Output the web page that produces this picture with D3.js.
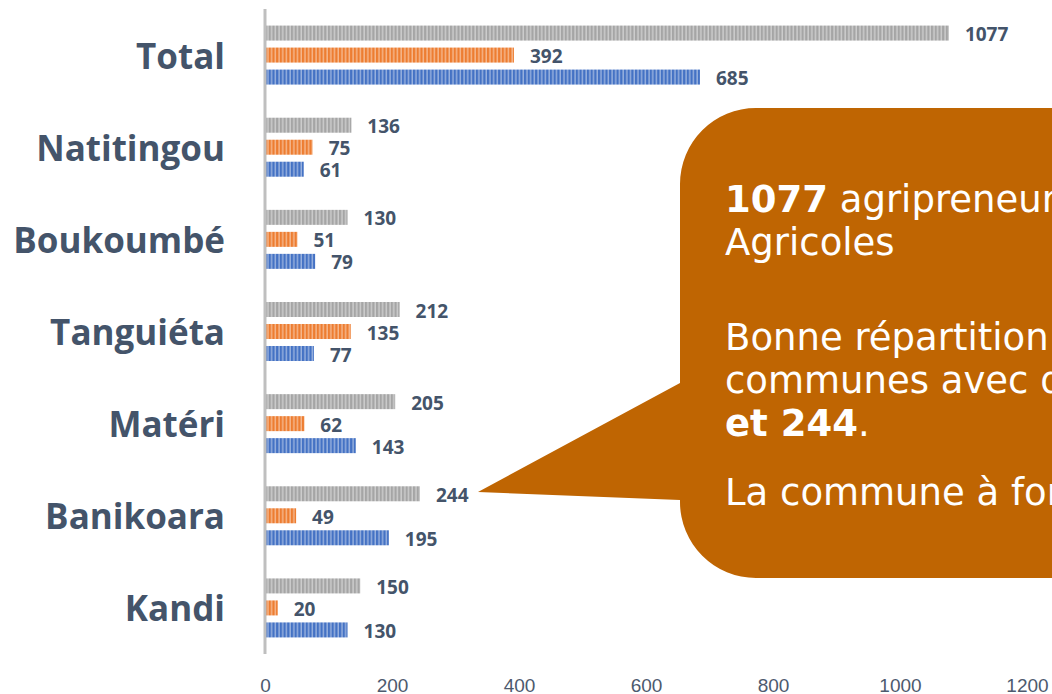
<!DOCTYPE html>
<html>
<head>
<meta charset="utf-8">
<script src="https://cdn.jsdelivr.net/npm/d3@7"></script>
<style>
  body { margin: 0; background: #ffffff; overflow: hidden; }
  svg { display: block; }
</style>
</head>
<body>
<div id="chart"></div>
<script>
// Data
const communes = ["Total", "Natitingou", "Boukoumbé", "Tanguiéta", "Matéri", "Banikoara", "Kandi"]
const series = ["ensemble", "groupeA", "groupeB"]
const ensembleValues = [1077, 136, 130, 212, 205, 244, 150]
const groupeAValues = [392, 75, 51, 135, 62, 49, 20]
const groupeBValues = [685, 61, 79, 77, 143, 195, 130]
const xTicks = [0, 200, 400, 600, 800, 1000, 1200]

const calloutLines = [
    [{t: "1077", b: true}, {t: " agripreneurs"}],
    [{t: "Agricoles"}],
    [],
    [{t: "Bonne répartition"}],
    [{t: "communes avec des"}],
    [{t: "et 244", b: true}, {t: "."}],
    [],
    [{t: "La commune à forte"}],
]

async function drawBarChart() {
    const dataset = communes.map((c, i) => ({
        commune: c,
        ensemble: ensembleValues[i],
        groupeA: groupeAValues[i],
        groupeB: groupeBValues[i],
    }))

  // Dimensions
    let dimensions = {
        width: 1052,
        height: 694,
        margin: { top: 9, right: 25, bottom: 40, left: 265 },
    }
    dimensions.boundedWidth = dimensions.width - dimensions.margin.left - dimensions.margin.right
    dimensions.boundedHeight = dimensions.height - dimensions.margin.top - dimensions.margin.bottom

    const svg = d3.select("#chart")
        .append("svg")
            .attr("width", dimensions.width)
            .attr("height", dimensions.height)

    const colors = {
        ensemble: "#a5a5a5",
        groupeA: "#ed7d31",
        groupeB: "#4472c4",
    }

  // Stripe patterns
    const defs = svg.append("defs")
    series.forEach(s => {
        const p = defs.append("pattern")
            .attr("id", `stripe-${s}`)
            .attr("patternUnits", "userSpaceOnUse")
            .attr("width", 3.7)
            .attr("height", 10)
        p.append("rect")
            .attr("width", 3.7).attr("height", 10)
            .attr("fill", colors[s])
        p.append("rect")
            .attr("x", 2.3).attr("width", 1.3).attr("height", 10)
            .attr("fill", "#ffffff").attr("opacity", 0.5)
    })

    const bounds = svg.append("g")
        .attr("transform", `translate(${dimensions.margin.left},${dimensions.margin.top})`)

  // Scales
    const xScale = d3.scaleLinear()
        .domain([0, 1200])
        .range([0, 762])

    const yScale = d3.scaleBand()
        .domain(communes)
        .range([0, 645])

    const innerScale = d3.scaleBand()
        .domain(series)
        .range([-33, 33])
        .paddingInner(0.318)
        .paddingOuter(0.159)

  // Bars
    const groups = bounds.selectAll(".commune")
        .data(dataset)
        .join("g")
            .attr("class", "commune")
            .attr("transform", d => `translate(0,${yScale(d.commune) + yScale.bandwidth() / 2})`)

    groups.selectAll("rect")
        .data(d => series.map(s => ({ key: s, value: d[s] })))
        .join("rect")
            .attr("x", xScale(0))
            .attr("y", d => innerScale(d.key))
            .attr("width", d => xScale(d.value) - xScale(0))
            .attr("height", innerScale.bandwidth())
            .attr("fill", d => `url(#stripe-${d.key})`)

    groups.selectAll(".value")
        .data(d => series.map(s => ({ key: s, value: d[s] })))
        .join("text")
            .attr("class", "value")
            .attr("x", d => xScale(d.value) + 16)
            .attr("y", d => innerScale(d.key) + innerScale.bandwidth() / 2 + 1)
            .attr("dominant-baseline", "central")
            .attr("fill", "#44546a")
            .style("font-family", "'Open Sans', sans-serif")
            .style("font-weight", 700)
            .style("font-size", "19px")
            .text(d => d.value)

  // Category labels
    bounds.selectAll(".cat")
        .data(communes)
        .join("text")
            .attr("class", "cat")
            .attr("x", -40)
            .attr("y", d => yScale(d) + yScale.bandwidth() / 2)
            .attr("text-anchor", "end")
            .attr("dominant-baseline", "central")
            .attr("fill", "#44546a")
            .style("font-family", "'Open Sans', sans-serif")
            .style("font-weight", 700)
            .style("font-size", "35px")
            .text(d => d)

  // Vertical axis line
    bounds.append("line")
        .attr("x1", xScale(0)).attr("x2", xScale(0))
        .attr("y1", 0).attr("y2", 645)
        .attr("stroke", "#bfbfbf")
        .attr("stroke-width", 3)

  // x axis (labels only)
    const xAxisGenerator = d3.axisBottom()
        .scale(xScale)
        .tickValues(xTicks)
        .tickFormat(d3.format("d"))
        .tickSize(0)
        .tickPadding(0)
    const xAxis = bounds.append("g")
        .attr("transform", `translate(0,${dimensions.boundedHeight + 24})`)
        .call(xAxisGenerator)
    xAxis.select(".domain").remove()
    xAxis.selectAll("text")
        .attr("fill", "#4d5a6e")
        .style("font-family", "'Liberation Sans Narrow', 'Liberation Sans', sans-serif")
        .style("font-size", "19px")

  // Callout bubble
    const bx = 680, by = 108, bb = 578, br = 76, bRight = 1140
    const tip = [478, 492]
    const path = d3.path()
    path.moveTo(bx + br, by)
    path.lineTo(bRight, by)
    path.lineTo(bRight, bb)
    path.lineTo(bx + br, bb)
    path.arcTo(bx, bb, bx, bb - br, br)
    path.lineTo(bx, 500)
    path.lineTo(tip[0], tip[1])
    path.lineTo(bx, 383)
    path.lineTo(bx, by + br)
    path.arcTo(bx, by, bx + br, by, br)
    path.closePath()

    svg.append("path")
        .attr("d", path.toString())
        .attr("fill", "#bf6502")

    const baselines = [212, 255, null, 350, 393, 436, null, 505]
    calloutLines.forEach((line, i) => {
        if (!line.length) return
        const ct = svg.append("text")
            .attr("x", 725)
            .attr("y", baselines[i])
            .attr("fill", "#ffffff")
            .style("font-family", "'DejaVu Sans', sans-serif")
            .style("font-size", "37px")
        line.forEach(part => {
            ct.append("tspan")
                .text(part.t)
                .style("font-weight", part.b ? 700 : 400)
        })
    })
}

drawBarChart()
</script>
</body>
</html>
